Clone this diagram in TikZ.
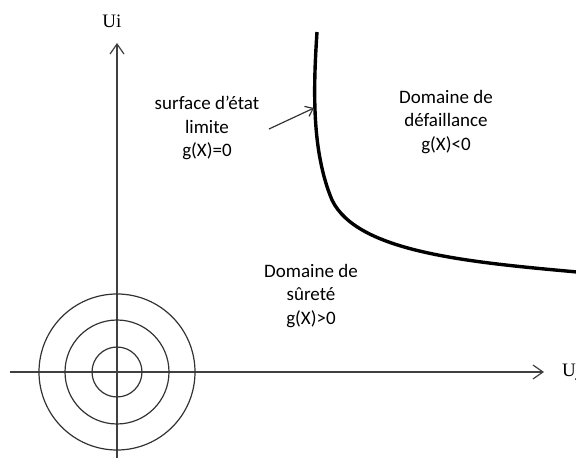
\documentclass[tikz,border=0pt]{standalone}
\usepackage{fontspec}
\setmainfont{Carlito}
\newfontfamily\axisfont{Liberation Serif}
\usetikzlibrary{arrows.meta}

\begin{document}
\begin{tikzpicture}[x=1pt, y=1pt,
    every node/.style={font=\fontsize{19}{23.5}\selectfont, align=center, inner sep=0pt},
    axis/.style={line width=1.2pt, black!75, -{Straight Barb[length=10pt, width=14pt]}},
    ring/.style={line width=1.2pt, black!80},
    limitcurve/.style={line width=3.4pt, black},
    pointer/.style={line width=1.2pt, black!80, -{Straight Barb[length=7pt, width=11pt]}}]
    \useasboundingbox (-117,-86) rectangle (459,372);

    % axes
    \coordinate (xstart) at (-107,0);
    \coordinate (xend) at (427,0);
    \coordinate (ystart) at (0,-86);
    \coordinate (yend) at (0,329);
    \draw[axis] (xstart) -- (xend);
    \draw[axis] (ystart) -- (yend);
    \node[font=\axisfont\fontsize{19}{23}\selectfont] (ui) at (-5,351) {Ui};
    \node[font=\axisfont\fontsize{19}{23}\selectfont, anchor=west] (uj) at (445,0) {Uj};

    % cercles
    \foreach \r in {25,52,78} {
        \draw[ring] (0,0) circle (\r);
    }

    % surface d'etat limite
    \draw[limitcurve] (200,340) .. controls (196,280) and (195,220) .. (215,172)
        .. controls (240,120) and (350,110) .. (460,100);

    % textes
    \node (surface) at (90,244) {surface d'état\\limite\\g(X)=0};
    \node (defaillance) at (329,250) {Domaine de\\défaillance\\g(X)<0};
    \node (surete) at (194,76) {Domaine de\\sûreté\\g(X)>0};

    \coordinate (ptrstart) at (152,243);
    \coordinate (ptrend) at (197,264);
    \draw[pointer] (ptrstart) -- (ptrend);
\end{tikzpicture}
\end{document}
